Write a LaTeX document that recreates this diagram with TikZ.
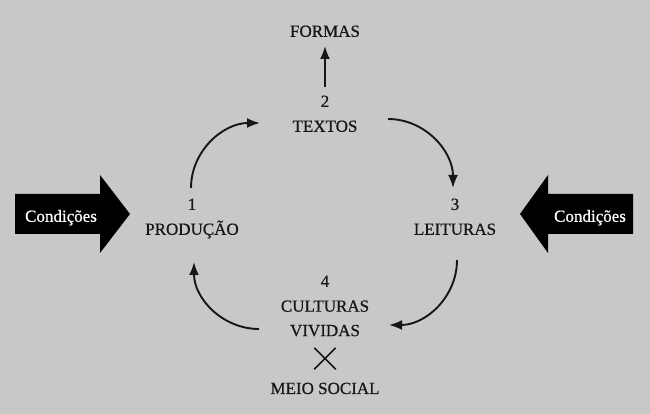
\documentclass[tikz,border=0pt]{standalone}
\usepackage{fontspec}
\setmainfont{Liberation Serif}
\newfontfamily\cheia{Liberation Serif}[FakeBold=0.6]
\usetikzlibrary{arrows.meta,positioning,shapes.misc}
\definecolor{paper}{RGB}{200,200,200}
\definecolor{ink}{RGB}{22,22,22}
\tikzset{
  lbl/.style={inner sep=0pt, text height=11.5pt, text depth=0pt,
    font=\cheia\fontsize{17}{20}\selectfont, text=ink},
  cyc/.style={->, line width=1.9pt, draw=ink},
  bigarrow/.style={fill=black},
}

\begin{document}
\begin{tikzpicture}[x=1pt, y=1pt, node distance=13pt,
    >={Latex[length=13pt,width=10pt]}]
    % background and frame of the picture
    \fill[paper] (0,0) rectangle (650,414);
    \useasboundingbox (0,0) rectangle (650,414);

    % the four moments of the circuit
    \node [lbl, anchor=south] (textos) at (325,282) {TEXTOS};
    \node [lbl, above=of textos] (n2) {2};
    \node [lbl, anchor=south] (formas) at (325,377) {FORMAS};
    \node [lbl, anchor=south] (producao) at (192,179) {PRODUÇÃO};
    \node [lbl, above=of producao] (n1) {1};
    \node [lbl, anchor=south] (leituras) at (455,179) {LEITURAS};
    \node [lbl, above=of leituras] (n3) {3};
    \node [lbl, anchor=south] (n4) at (325,127) {4};
    \node [lbl, below=of n4] (culturas) {CULTURAS};
    \node [lbl, below=12.5pt of culturas] (vividas) {VIVIDAS};
    \node [cross out, draw=ink, line width=1.5pt, minimum size=20pt,
        inner sep=0pt, below=11.5pt of vividas] (vezes) {};
    \node [lbl, below=of vezes] (meio) {MEIO SOCIAL};

    % conditions pushing from both sides
    \fill [bigarrow] (15,180) -- (100,180) -- (100,161) -- (130,200)
        -- (100,239) -- (100,220) -- (15,220) -- cycle;
    \node [lbl, text=white, anchor=south] (condesq) at (61,192) {Condições};
    \fill [bigarrow] (633,180) -- (548,180) -- (548,161) -- (520,200)
        -- (548,239) -- (548,220) -- (633,220) -- cycle;
    \node [lbl, text=white, anchor=south] (conddir) at (590,192) {Condições};

    % ends of the curved arrows
    \coordinate (c12a) at (191,226);
    \coordinate (c12b) at (260,291);
    \coordinate (c23a) at (388,295);
    \coordinate (c23b) at (453,226);
    \coordinate (c34a) at (457,154);
    \coordinate (c34b) at (389,89);
    \coordinate (c41a) at (259,85);
    \coordinate (c41b) at (194,152);

    \draw [cyc] (c12a) to[out=90, in=180] (c12b);
    \draw [cyc] (c23a) to[out=0, in=90] (c23b);
    \draw [cyc] (c34a) to[out=-90, in=0] (c34b);
    \draw [cyc] (c41a) to[out=180, in=-90] (c41b);
    \draw [cyc, shorten <=8.5pt, shorten >=9pt] (n2) -- (formas);
\end{tikzpicture}
\end{document}
